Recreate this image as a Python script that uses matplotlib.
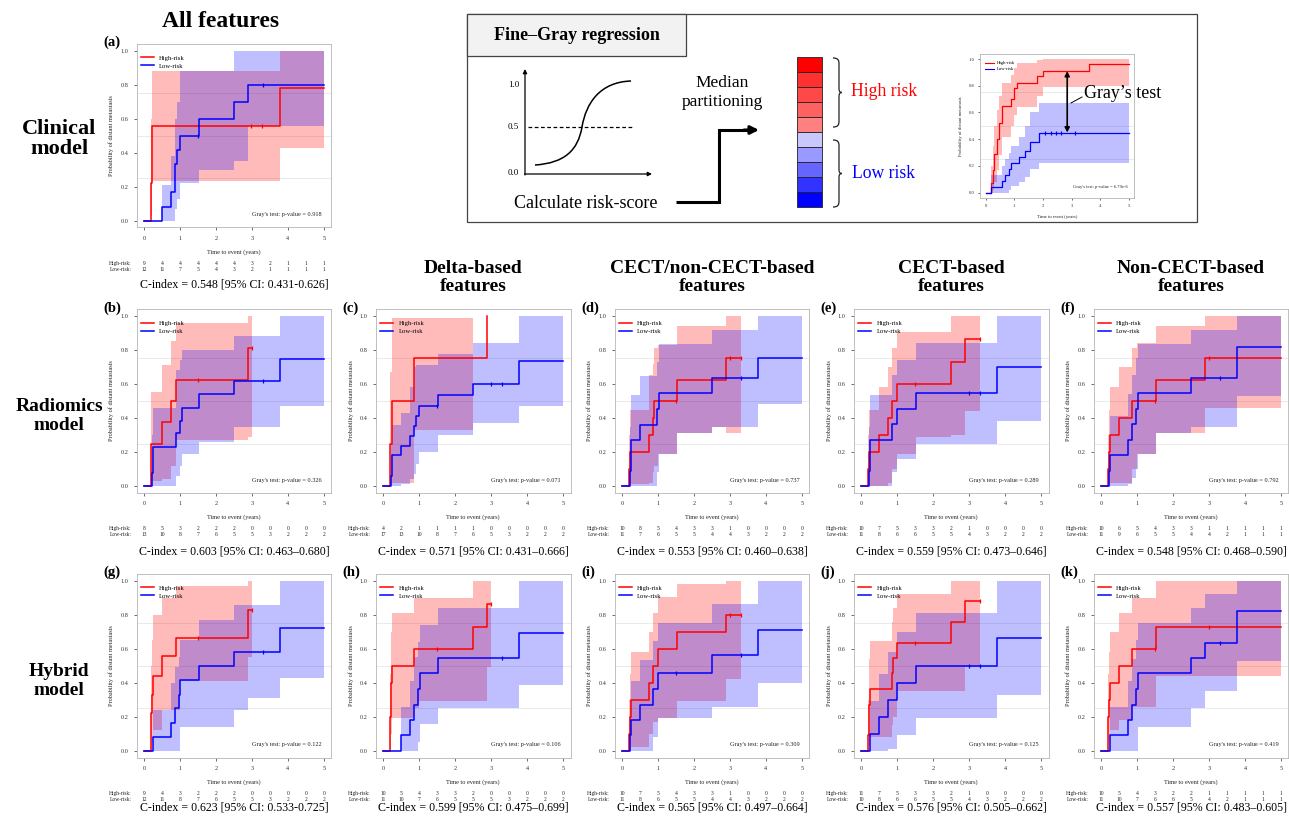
import numpy as np
import matplotlib
matplotlib.use("Agg")
import matplotlib.pyplot as plt
from matplotlib.path import Path
from matplotlib.patches import PathPatch, Rectangle
from matplotlib.lines import Line2D

plt.rcParams['font.family'] = ['Liberation Serif', 'DejaVu Serif']

W, H = 1289, 823
RED = '#ff0000'
BLUE = '#0000ff'
NAN = float('nan')

risk_times = [0, 0.5, 1, 1.5, 2, 2.5, 3, 3.5, 4, 4.5, 5]

# ---------------- data: rows are (time, estimate, lower CI, upper CI) ----------------
a_high = [(0, 0, 0, 0), (0.19, 0.222, 0.03, 0.60), (0.21, 0.444, 0.15, 0.80), (0.23, 0.555, 0.233, 0.88), (3.78, 0.778, 0.43, 1.0)]
a_high_end, a_high_cens = 5, [2.98, 3.28]
a_low = [(0, 0, 0, 0), (0.5, 0.083, 0.0, 0.21), (0.75, 0.167, 0.0, 0.38), (0.85, 0.333, 0.07, 0.60), (0.93, 0.417, 0.13, 0.70),
         (1.0, 0.5, 0.22, 0.88), (1.52, 0.6, 0.30, 0.88), (2.5, 0.7, 0.35, 1.0), (2.88, 0.8, 0.555, 1.0)]
a_low_cens = [1.5, 3.3]
a_risk_high = [9, 4, 4, 4, 4, 4, 3, 2, 1, 1, 1]
a_risk_low = [12, 11, 7, 5, 4, 3, 2, 1, 1, 1, 1]
a_p, a_cidx = '0.918', 'C-index = 0.548 [95% CI: 0.431-0.626]'

b_high = [(0, 0, 0, 0), (0.2, 0.25, 0.03, 0.55), (0.5, 0.375, 0.04, 0.71), (0.75, 0.5, 0.12, 0.85), (0.88, 0.625, 0.27, 0.96), (2.88, 0.81, 0.29, 1.0)]
b_high_end, b_high_cens = 3.0, [1.5, 3.0]
b_low = [(0, 0, 0, 0), (0.22, 0.077, 0, 0.3), (0.24, 0.23, 0, 0.46), (0.88, 0.31, 0.06, 0.68), (1.0, 0.385, 0.12, 0.74),
         (1.05, 0.46, 0.19, 0.80), (1.52, 0.54, 0.26, 0.80), (2.5, 0.615, 0.35, 0.88), (3.78, 0.745, 0.47, 1.0)]
b_low_cens = [3.3]
b_risk_high = [8, 5, 3, 2, 2, 2, 0, 0, 0, 0, 0]
b_risk_low = [13, 10, 8, 7, 6, 5, 5, 3, 2, 2, 2]
b_p, b_cidx = '0.326', 'C-index = 0.603 [95% CI: 0.463\u20130.680]'

c_high = [(0, 0, 0, 0), (0.19, 0.25, 0.02, 0.67), (0.24, 0.5, 0.015, 0.99), (0.85, 0.75, 0.33, 0.99), (2.5, 0.75, NAN, NAN), (2.88, 1.0, NAN, NAN)]
c_high_end, c_high_cens = 2.88, []
c_low = [(0, 0, 0, 0), (0.22, 0.06, 0.0, 0.25), (0.23, 0.118, 0.0, 0.3), (0.25, 0.18, 0.0, 0.36), (0.5, 0.235, 0.01, 0.43),
         (0.75, 0.295, 0.04, 0.58), (0.85, 0.355, 0.07, 0.70), (0.92, 0.41, 0.13, 0.71), (1.0, 0.47, 0.2, 0.71),
         (1.52, 0.535, 0.3, 0.775), (2.5, 0.6, 0.37, 0.84), (3.78, 0.735, 0.47, 1.0)]
c_low_cens = [1.5, 3.0, 3.3]
c_risk_high = [4, 2, 1, 1, 1, 1, 0, 0, 0, 0, 0]
c_risk_low = [17, 13, 10, 8, 7, 6, 5, 3, 2, 2, 2]
c_p, c_cidx = '0.071', 'C-index = 0.571 [95% CI: 0.431\u20130.666]'

d_high = [(0, 0, 0, 0), (0.19, 0.1, 0, 0.3), (0.22, 0.2, 0.01, 0.45), (0.75, 0.3, 0.02, 0.65), (0.85, 0.4, 0.08, 0.72),
          (0.88, 0.5, 0.12, 0.81), (1.0, 0.5, 0.19, 0.83), (1.52, 0.625, 0.31, 0.94), (2.5, 0.625, 0.35, 0.94), (2.88, 0.75, 0.31, 1.0)]
d_high_end, d_high_cens = 3.3, [1.5, 3.0, 3.3]
d_low = [(0, 0, 0, 0), (0.22, 0.09, 0, 0.35), (0.25, 0.27, 0, 0.535), (0.5, 0.36, 0.0, 0.645), (0.97, 0.455, 0.08, 0.73),
         (1.02, 0.545, 0.19, 0.835), (1.52, 0.545, 0.31, 0.835), (2.5, 0.635, 0.35, 0.92), (3.78, 0.755, 0.485, 1.0)]
d_low_cens = [3.3]
d_risk_high = [10, 8, 5, 4, 3, 3, 1, 0, 0, 0, 0]
d_risk_low = [11, 7, 6, 5, 5, 4, 4, 3, 2, 2, 2]
d_p, d_cidx = '0.737', 'C-index = 0.553 [95% CI: 0.460\u20130.638]'

e_high = [(0, 0, 0, 0), (0.19, 0.1, 0, 0.3), (0.22, 0.2, 0, 0.45), (0.5, 0.3, 0.0, 0.58), (0.75, 0.4, 0.02, 0.70),
          (0.85, 0.5, 0.10, 0.81), (1.0, 0.6, 0.19, 0.905), (1.52, 0.6, 0.29, 0.905), (2.5, 0.73, 0.30, 1.0), (2.88, 0.865, 0.44, 1.0)]
e_high_end, e_high_cens = 3.3, [1.5, 3.3]
e_low = [(0, 0, 0, 0), (0.22, 0.09, 0, 0.35), (0.25, 0.27, 0, 0.535), (0.85, 0.365, 0.08, 0.65), (1.0, 0.455, 0.16, 0.74),
         (1.52, 0.545, 0.25, 0.84), (3.78, 0.70, 0.385, 1.0)]
e_low_cens = [3.0, 3.3]
e_risk_high = [10, 7, 5, 3, 3, 2, 1, 0, 0, 0, 0]
e_risk_low = [11, 8, 6, 6, 5, 5, 4, 3, 2, 2, 2]
e_p, e_cidx = '0.289', 'C-index = 0.559 [95% CI: 0.473\u20130.646]'

f_high = [(0, 0, 0, 0), (0.19, 0.1, 0, 0.3), (0.22, 0.2, 0, 0.45), (0.25, 0.3, 0.02, 0.58), (0.5, 0.4, 0.02, 0.70),
          (0.85, 0.5, 0.10, 0.81), (1.0, 0.5, 0.19, 0.84), (1.52, 0.625, 0.31, 0.94), (2.5, 0.625, 0.31, 0.94), (2.88, 0.75, 0.46, 1.0)]
f_high_end, f_high_cens = 5, [1.5, 3.0]
f_low = [(0, 0, 0, 0), (0.22, 0.09, 0, 0.3), (0.25, 0.18, 0, 0.41), (0.75, 0.27, 0.01, 0.54), (0.85, 0.365, 0.05, 0.65),
         (0.97, 0.455, 0.1, 0.75), (1.02, 0.545, 0.19, 0.835), (1.52, 0.545, 0.31, 0.835), (2.5, 0.635, 0.35, 0.92), (3.78, 0.82, 0.53, 1.0)]
f_low_cens = [3.3]
f_risk_high = [10, 6, 5, 4, 3, 3, 1, 1, 1, 1, 1]
f_risk_low = [11, 9, 6, 5, 5, 4, 4, 2, 1, 1, 1]
f_p, f_cidx = '0.792', 'C-index = 0.548 [95% CI: 0.468\u20130.590]'

g_high = [(0, 0, 0, 0), (0.19, 0.22, 0, 0.5), (0.22, 0.33, 0.05, 0.65), (0.25, 0.44, 0.12, 0.8), (0.5, 0.555, 0.24, 0.9),
          (0.88, 0.665, 0.24, 0.97), (1.0, 0.665, 0.41, 0.97), (2.88, 0.83, 0.55, 1.0)]
g_high_end, g_high_cens = 3.0, [1.5, 3.0]
g_low = [(0, 0, 0, 0), (0.25, 0.08, 0.0, 0.24), (0.75, 0.165, 0.0, 0.40), (0.85, 0.25, 0.0, 0.49), (0.97, 0.33, 0.0, 0.55),
         (1.0, 0.415, 0.14, 0.65), (1.52, 0.5, 0.14, 0.77), (2.5, 0.58, 0.24, 0.86), (2.88, 0.58, 0.31, 0.86), (3.78, 0.72, 0.43, 1.0)]
g_low_cens = [3.3]
g_risk_high = [9, 4, 3, 2, 2, 2, 0, 0, 0, 0, 0]
g_risk_low = [12, 11, 8, 7, 6, 5, 5, 3, 2, 2, 2]
g_p, g_cidx = '0.122', 'C-index = 0.623 [95% CI: 0.533-0.725]'

h_high = [(0, 0, 0, 0), (0.19, 0.2, 0, 0.45), (0.22, 0.4, 0.1, 0.7), (0.25, 0.5, 0.19, 0.81), (0.85, 0.6, 0.25, 0.9),
          (1.0, 0.6, 0.29, 0.9), (2.5, 0.73, 0.29, 1.0), (2.88, 0.865, 0.49, 1.0)]
h_high_end, h_high_cens = 3.0, [1.5, 3.0]
h_low = [(0, 0, 0, 0), (0.5, 0.09, 0, 0.26), (0.75, 0.18, 0, 0.41), (0.85, 0.27, 0, 0.55), (0.97, 0.365, 0.05, 0.64),
         (1.02, 0.455, 0.16, 0.74), (1.52, 0.545, 0.25, 0.84), (3.78, 0.695, 0.385, 1.0)]
h_low_cens = [3.3]
h_risk_high = [10, 5, 4, 3, 3, 2, 0, 0, 0, 0, 0]
h_risk_low = [11, 10, 7, 6, 5, 5, 5, 3, 2, 2, 2]
h_p, h_cidx = '0.106', 'C-index = 0.599 [95% CI: 0.475\u20130.699]'

i_high = [(0, 0, 0, 0), (0.19, 0.1, 0, 0.3), (0.22, 0.2, 0, 0.45), (0.25, 0.3, 0.02, 0.58), (0.75, 0.4, 0.1, 0.7),
          (0.85, 0.5, 0.17, 0.81), (1.0, 0.6, 0.19, 0.905), (1.52, 0.7, 0.29, 0.98), (2.88, 0.8, 0.42, 1.0)]
i_high_end, i_high_cens = 3.3, [3.0, 3.3]
i_low = [(0, 0, 0, 0), (0.22, 0.09, 0, 0.3), (0.25, 0.18, 0, 0.41), (0.5, 0.27, 0, 0.535), (0.85, 0.365, 0.08, 0.645),
         (1.0, 0.455, 0.19, 0.75), (2.5, 0.565, 0.26, 0.865), (3.78, 0.71, 0.40, 1.0)]
i_low_cens = [1.5, 3.3]
i_risk_high = [10, 7, 5, 4, 3, 3, 1, 0, 0, 0, 0]
i_risk_low = [11, 8, 6, 5, 5, 4, 4, 3, 2, 2, 2]
i_p, i_cidx = '0.309', 'C-index = 0.565 [95% CI: 0.497\u20130.664]'

j_high = [(0, 0, 0, 0), (0.19, 0.09, 0, 0.3), (0.2, 0.18, 0, 0.41), (0.22, 0.27, 0.03, 0.54), (0.25, 0.365, 0.08, 0.645),
          (0.85, 0.455, 0.15, 0.76), (0.88, 0.545, 0.2, 0.84), (1.0, 0.635, 0.35, 0.92), (2.5, 0.76, 0.35, 1.0), (2.88, 0.88, 0.49, 1.0)]
j_high_end, j_high_cens = 3.3, [1.5, 3.3]
j_low = [(0, 0, 0, 0), (0.25, 0.1, 0, 0.29), (0.5, 0.2, 0, 0.45), (0.75, 0.3, 0.01, 0.58), (1.0, 0.4, 0.09, 0.7),
         (1.52, 0.5, 0.19, 0.81), (3.78, 0.665, 0.33, 1.0)]
j_low_cens = [3.0, 3.3]
j_risk_high = [11, 7, 5, 3, 3, 2, 1, 0, 0, 0, 0]
j_risk_low = [10, 8, 6, 6, 5, 5, 4, 3, 2, 2, 2]
j_p, j_cidx = '0.125', 'C-index = 0.576 [95% CI: 0.505\u20130.662]'

k_high = [(0, 0, 0, 0), (0.19, 0.1, 0, 0.3), (0.2, 0.2, 0, 0.45), (0.22, 0.3, 0.05, 0.58), (0.25, 0.4, 0.12, 0.7),
          (0.5, 0.5, 0.18, 0.81), (0.85, 0.6, 0.26, 0.9), (1.52, 0.73, 0.44, 1.0)]
k_high_end, k_high_cens = 5, [1.5, 3.0]
k_low = [(0, 0, 0, 0), (0.25, 0.09, 0, 0.26), (0.75, 0.18, 0, 0.41), (0.85, 0.27, 0, 0.54), (0.97, 0.365, 0, 0.65),
         (1.03, 0.455, 0.14, 0.75), (2.5, 0.545, 0.25, 0.84), (2.88, 0.635, 0.35, 0.92), (3.78, 0.82, 0.53, 1.0)]
k_low_cens = [3.3]
k_risk_high = [10, 5, 4, 3, 2, 2, 1, 1, 1, 1, 1]
k_risk_low = [11, 10, 7, 6, 6, 5, 4, 2, 1, 1, 1]
k_p, k_cidx = '0.419', 'C-index = 0.557 [95% CI: 0.483\u20130.605]'

# schematic mini plot (Fine-Gray example)
fg_high = [(0, 0, 0, 0), (0.19, 0.07, 0, 0.2), (0.25, 0.17, 0.02, 0.35), (0.3, 0.29, 0.08, 0.5), (0.4, 0.4, 0.17, 0.62),
           (0.45, 0.52, 0.28, 0.72), (0.58, 0.65, 0.42, 0.82), (0.9, 0.7, 0.5, 0.88), (1.0, 0.78, 0.58, 0.93),
           (1.09, 0.82, 0.64, 0.97), (1.8, 0.87, 0.72, 0.99), (2.0, 0.91, 0.79, 1.0), (3.6, 0.96, 0.80, 1.0)]
fg_low = [(0, 0, 0, 0), (0.2, 0.045, 0, 0.13), (0.58, 0.09, 0, 0.2), (0.68, 0.13, 0, 0.25), (0.8, 0.18, 0.02, 0.3),
          (0.9, 0.22, 0.05, 0.35), (1.18, 0.27, 0.08, 0.42), (1.37, 0.31, 0.12, 0.5), (1.56, 0.38, 0.18, 0.6), (1.88, 0.45, 0.22, 0.67)]
fg_low_cens = [2.09, 2.27, 2.46, 2.65, 3.12]
fg_p = '6.79e-6'
bar_colors = ['#ff0000', '#ff3030', '#ff4848', '#ff6060', '#ff8080', '#c8c8ff', '#9999ff', '#6666ff', '#3333ff', '#0000ff']

# ---------------- layout ----------------
COL_X0 = [144, 383.3, 622, 861.3, 1101]      # pixel x of t = 0
ROW_Y0 = [220.7, 486, 750.7]                 # pixel y of p = 0
PXT, PXP = 36.0, 170.0                       # px per year, px per unit prob
CIDX_OFF = [64, 66, 57]

panels = [
    ('(a)', 0, 0, a_high, a_high_end, a_high_cens, a_low, a_low_cens, a_risk_high, a_risk_low, a_p, a_cidx),
    ('(b)', 0, 1, b_high, b_high_end, b_high_cens, b_low, b_low_cens, b_risk_high, b_risk_low, b_p, b_cidx),
    ('(c)', 1, 1, c_high, c_high_end, c_high_cens, c_low, c_low_cens, c_risk_high, c_risk_low, c_p, c_cidx),
    ('(d)', 2, 1, d_high, d_high_end, d_high_cens, d_low, d_low_cens, d_risk_high, d_risk_low, d_p, d_cidx),
    ('(e)', 3, 1, e_high, e_high_end, e_high_cens, e_low, e_low_cens, e_risk_high, e_risk_low, e_p, e_cidx),
    ('(f)', 4, 1, f_high, f_high_end, f_high_cens, f_low, f_low_cens, f_risk_high, f_risk_low, f_p, f_cidx),
    ('(g)', 0, 2, g_high, g_high_end, g_high_cens, g_low, g_low_cens, g_risk_high, g_risk_low, g_p, g_cidx),
    ('(h)', 1, 2, h_high, h_high_end, h_high_cens, h_low, h_low_cens, h_risk_high, h_risk_low, h_p, h_cidx),
    ('(i)', 2, 2, i_high, i_high_end, i_high_cens, i_low, i_low_cens, i_risk_high, i_risk_low, i_p, i_cidx),
    ('(j)', 3, 2, j_high, j_high_end, j_high_cens, j_low, j_low_cens, j_risk_high, j_risk_low, j_p, j_cidx),
    ('(k)', 4, 2, k_high, k_high_end, k_high_cens, k_low, k_low_cens, k_risk_high, k_risk_low, k_p, k_cidx),
]

fig = plt.figure(figsize=(W / 100, H / 100), dpi=100)
fig.patch.set_facecolor('white')

ov = fig.add_axes([0, 0, 1, 1])
ov.set_xlim(0, W)
ov.set_ylim(H, 0)
ov.axis('off')


def step_value(rows, t):
    v = 0
    for r in rows:
        if r[0] <= t:
            v = r[1]
    return v


def draw_band(ax, rows, end, color, alpha=0.27):
    t = [r[0] for r in rows] + [end]
    lo = [r[2] for r in rows]
    hi = [r[3] for r in rows]
    k = len(rows)
    for i, v in enumerate(lo):
        if np.isnan(v):
            k = i
            break
    tt = np.array(t[:k + 1], dtype=float)
    ll = np.array(lo[:k] + [lo[k - 1]], dtype=float)
    hh = np.array(hi[:k] + [hi[k - 1]], dtype=float)
    ax.fill_between(tt, ll, hh, step='post', color=color, alpha=alpha, lw=0, zorder=2)


def draw_line(ax, rows, end, cens, color, lw=1.1, ms=3.0):
    t = np.array([r[0] for r in rows] + [end], dtype=float)
    est = np.array([r[1] for r in rows] + [rows[-1][1]], dtype=float)
    ax.step(t, est, where='post', color=color, lw=lw, zorder=4)
    if cens:
        ax.plot(cens, [step_value(rows, c) for c in cens], ls='none', marker='|',
                ms=ms, mew=0.9, color=color, zorder=5)


def style_axes(ax, fs=4.5, xpad=3.8, ypad=4.2, tl=2.0):
    ax.set_xlim(-0.2, 5.2)
    ax.set_ylim(-0.04, 1.04)
    ax.set_xticks(range(6))
    ax.set_yticks([0, 0.2, 0.4, 0.6, 0.8, 1.0])
    ax.set_yticklabels(['0.0', '0.2', '0.4', '0.6', '0.8', '1.0'])
    ax.set_yticks([0, 0.25, 0.5, 0.75, 1.0], minor=True)
    ax.grid(axis='y', which='minor', color='#e6e6e6', lw=0.6, zorder=0)
    ax.tick_params(axis='y', which='minor', length=0)
    ax.tick_params(axis='x', which='major', labelsize=fs, length=tl, width=0.5, pad=xpad, colors='#333333')
    ax.tick_params(axis='y', which='major', labelsize=fs, length=tl, width=0.5, pad=ypad, colors='#333333')
    for s in ax.spines.values():
        s.set_color('#b5b5b5')
        s.set_linewidth(0.6)
    ax.set_axisbelow(True)


for (lab, col, row, hr, hend, hcens, lr, lcens, rh, rl, p, cidx) in panels:
    x0 = COL_X0[col]
    y0 = ROW_Y0[row]
    left = x0 - 0.2 * PXT
    bottom = y0 + 0.04 * PXP
    ax = fig.add_axes([left / W, 1 - bottom / H, 5.4 * PXT / W, 1.08 * PXP / H])
    style_axes(ax)
    draw_band(ax, hr, hend, RED, alpha=0.27)
    draw_band(ax, lr, 5, BLUE, alpha=0.25)
    draw_line(ax, hr, hend, hcens, RED)
    draw_line(ax, lr, 5, lcens, BLUE)
    handles = [Line2D([], [], color=RED, lw=1.1), Line2D([], [], color=BLUE, lw=1.1)]
    ax.legend(handles, ['High-risk', 'Low-risk'], loc='upper left', bbox_to_anchor=(0.022, 0.94),
              frameon=False, fontsize=4.8, handlelength=1.9, handletextpad=0.8, labelspacing=0.35,
              borderpad=0, borderaxespad=0)
    ax.text(4.93, 0.035, "Gray's test: p-value = " + p, ha='right', va='center', fontsize=4.5, color='#222222')
    ax.text(2.5, -0.182, 'Time to event (years)', ha='center', va='center', fontsize=4.5,
            color='#222222', clip_on=False)
    ax.text(-0.905, 0.5, 'Probability of distant metastasis', rotation=90, ha='center', va='center',
            fontsize=4.5, color='#222222', clip_on=False)
    ax.text(-0.35, -0.25, 'High-risk:', ha='right', va='center', fontsize=4, color='#222222', clip_on=False)
    ax.text(-0.35, -0.286, 'Low-risk:', ha='right', va='center', fontsize=4, color='#222222', clip_on=False)
    for t, nh, nl in zip(risk_times, rh, rl):
        ax.text(t, -0.25, str(nh), ha='center', va='center', fontsize=4, color='#222222', clip_on=False)
        ax.text(t, -0.286, str(nl), ha='center', va='center', fontsize=4, color='#222222', clip_on=False)
    ax.text(2.5, -CIDX_OFF[row] / PXP, cidx, ha='center', va='center', fontsize=8.6, clip_on=False)
    ax.text(-1.14, 1.048, lab, ha='left', va='center', fontsize=10.5, fontweight='bold', clip_on=False)

# ---------------- titles ----------------
TFS = 14
ov.text(221, 21, 'All features', ha='center', va='center', fontsize=17, fontweight='bold')
col_titles = ['Delta-based\nfeatures', 'CECT/non-CECT-based\nfeatures', 'CECT-based\nfeatures', 'Non-CECT-based\nfeatures']
for c, ttl in enumerate(col_titles, start=1):
    ov.text(COL_X0[c] + 90, 277.5, ttl, ha='center', va='center', fontsize=TFS, fontweight='bold', linespacing=1.15)
ov.text(59, 139, 'Clinical\nmodel', ha='center', va='center', fontsize=16, fontweight='bold', linespacing=1.0)
ov.text(59, 416, 'Radiomics\nmodel', ha='center', va='center', fontsize=TFS, fontweight='bold', linespacing=1.15)
ov.text(59, 681, 'Hybrid\nmodel', ha='center', va='center', fontsize=TFS, fontweight='bold', linespacing=1.15)

# ---------------- schematic ----------------
ov.add_patch(Rectangle((467, 14), 730, 208, fill=False, ec='#444444', lw=0.9))
ov.add_patch(Rectangle((467, 14), 219, 42, fc='#f2f2f2', ec='#444444', lw=0.9))
ov.text(576.5, 35, 'Fine\u2013Gray regression', ha='center', va='center', fontsize=13, fontweight='bold')

ov.annotate('', xy=(525, 69), xytext=(525, 175),
            arrowprops=dict(arrowstyle='-|>', lw=0.9, color='k', mutation_scale=6, shrinkA=0, shrinkB=0))
ov.annotate('', xy=(652, 174), xytext=(524.5, 174),
            arrowprops=dict(arrowstyle='-|>', lw=0.9, color='k', mutation_scale=6, shrinkA=0, shrinkB=0))
for lbl, yy in [('1.0', 85), ('0.5', 127), ('0.0', 173)]:
    ov.text(519, yy, lbl, ha='right', va='center', fontsize=6.5)
ov.plot([528, 634], [127, 127], ls=(0, (3, 2)), color='k', lw=0.9)
sig = Path([(535, 165), (565, 163), (578, 150), (582, 127), (586, 103), (600, 82), (631, 81)],
           [Path.MOVETO] + [Path.CURVE4] * 6)
ov.add_patch(PathPatch(sig, fill=False, lw=1.1, ec='k'))
ov.text(586, 203, 'Calculate risk-score', ha='center', va='center', fontsize=13)
ov.plot([676, 719, 719, 748], [202, 202, 130, 130], color='k', lw=2.2, solid_joinstyle='miter', solid_capstyle='butt')
ov.annotate('', xy=(759, 130), xytext=(744, 130),
            arrowprops=dict(arrowstyle='-|>', color='k', lw=2.2, mutation_scale=12, shrinkA=0, shrinkB=0))
ov.text(722, 92.5, 'Median\npartitioning', ha='center', va='center', fontsize=12.5, linespacing=1.2)

for i, cc in enumerate(bar_colors):
    ov.add_patch(Rectangle((797, 57 + i * 15), 25, 15, fc=cc, ec='#222222', lw=0.6))


def brace(y1, y2, x=833):
    ym = (y1 + y2) / 2
    verts = [(x, y1), (x + 5, y1), (x + 6, y1 + 2), (x + 6, y1 + 6), (x + 6, ym - 4),
             (x + 6, ym - 1), (x + 7, ym), (x + 9, ym), (x + 7, ym), (x + 6, ym + 1), (x + 6, ym + 4),
             (x + 6, y2 - 6), (x + 6, y2 - 2), (x + 5, y2), (x, y2)]
    codes = [Path.MOVETO, Path.CURVE4, Path.CURVE4, Path.CURVE4, Path.LINETO,
             Path.CURVE4, Path.CURVE4, Path.CURVE4, Path.CURVE4, Path.CURVE4, Path.CURVE4,
             Path.LINETO, Path.CURVE4, Path.CURVE4, Path.CURVE4]
    ov.add_patch(PathPatch(Path(verts, codes), fill=False, lw=0.9, ec='#222222'))


brace(58, 127)
brace(140, 207)
ov.text(884, 91, 'High risk', ha='center', va='center', fontsize=12.7, color=RED)
ov.text(883, 173, 'Low risk', ha='center', va='center', fontsize=12.7, color=BLUE)

# mini plot
mx0, my0, mpt, mpp = 985.7, 192.7, 28.6, 133.7
mini = fig.add_axes([(mx0 - 0.2 * mpt) / W, 1 - (my0 + 0.04 * mpp) / H, 5.4 * mpt / W, 1.08 * mpp / H])
style_axes(mini, fs=3.4, xpad=2.5, ypad=2.5, tl=1.5)
draw_band(mini, fg_high, 5, RED, alpha=0.27)
draw_band(mini, fg_low, 5, BLUE, alpha=0.25)
draw_line(mini, fg_high, 5, [], RED, lw=0.9)
draw_line(mini, fg_low, 5, fg_low_cens, BLUE, lw=0.9, ms=2.2)
mini.legend([Line2D([], [], color=RED, lw=0.8), Line2D([], [], color=BLUE, lw=0.8)], ['High-risk', 'Low-risk'],
            loc='upper left', bbox_to_anchor=(0.03, 0.95), frameon=False, fontsize=3.4, handlelength=1.9,
            handletextpad=0.8, labelspacing=0.4, borderpad=0, borderaxespad=0)
mini.text(4.95, 0.04, "Gray's test: p-value = " + fg_p, ha='right', va='center', fontsize=3.3, color='#222222')
mini.text(2.5, -0.185, 'Time to event (years)', ha='center', va='center', fontsize=3.4, color='#222222', clip_on=False)
mini.text(-0.85, 0.5, 'Probability of distant metastasis', rotation=90, ha='center', va='center',
          fontsize=3.3, color='#222222', clip_on=False)
mini.annotate('', xy=(2.85, step_value(fg_high, 2.85)), xytext=(2.85, step_value(fg_low, 2.85)),
              arrowprops=dict(arrowstyle='<|-|>', lw=1.2, color='k', mutation_scale=7, shrinkA=0, shrinkB=0))

top = fig.add_axes([0, 0, 1, 1], zorder=10)
top.set_xlim(0, W)
top.set_ylim(H, 0)
top.axis('off')
top.plot([1071, 1082], [103, 97], color='k', lw=0.7)
top.text(1123, 93, 'Gray\u2019s test', ha='center', va='center', fontsize=12.9)

fig.savefig('out.png', dpi=100, facecolor='white')
